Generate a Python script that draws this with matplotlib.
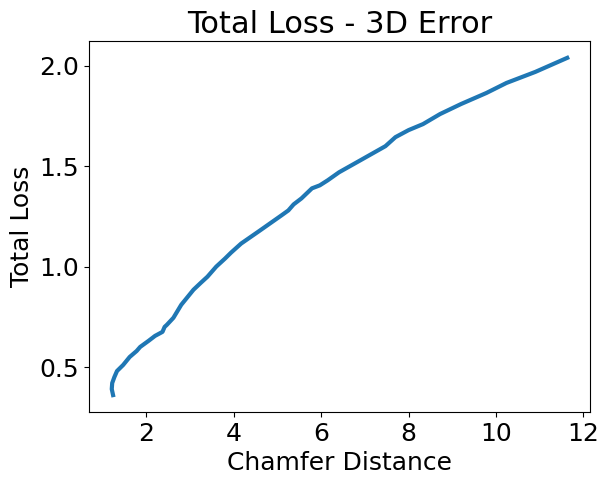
import matplotlib.pyplot as plt

# Chamfer distance vs total loss
chamfer = [1.24, 1.21, 1.22, 1.27, 1.33, 1.47, 1.62, 1.78, 1.86, 2.05, 2.2, 2.37, 2.42, 2.47,
           2.62, 2.8, 3.08, 3.25, 3.40, 3.6, 3.8, 3.94, 4.17, 4.6, 5.09, 5.25, 5.37, 5.55,
           5.79, 5.97, 6.15, 6.41, 6.9, 7.47, 7.70, 8.0, 8.33, 8.72, 9.2, 9.78, 10.24,
           10.9, 11.63]
total_loss = [0.36, 0.39, 0.42, 0.45, 0.48, 0.51, 0.55, 0.58, 0.60, 0.63, 0.655, 0.675, 0.70, 0.71,
              0.745, 0.81, 0.885, 0.92, 0.95, 1.0, 1.04, 1.07, 1.115, 1.18, 1.255, 1.28, 1.31, 1.34,
              1.39, 1.405, 1.43, 1.47, 1.53, 1.60, 1.645, 1.68, 1.71, 1.76, 1.81, 1.865, 1.915,
              1.97, 2.04]

fig = plt.figure(figsize=(6.07, 4.84), dpi=100)
ax = fig.add_axes([0.1466, 0.1488, 0.8254, 0.7665])
ax.plot(chamfer, total_loss, color='#1f77b4', linewidth=3)

ax.set_title('Total Loss - 3D Error', fontsize=22)
ax.set_xlabel('Chamfer Distance', fontsize=18)
ax.set_ylabel('Total Loss', fontsize=18)
ax.tick_params(labelsize=18)
ax.set_yticks([0.5, 1.0, 1.5, 2.0])

fig.savefig('out.png', dpi=100)
